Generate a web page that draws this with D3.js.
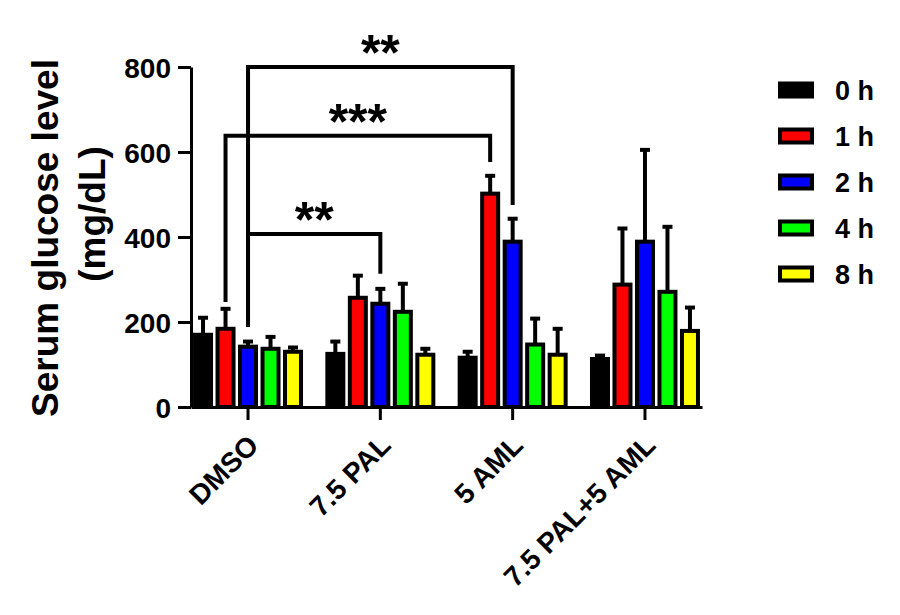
<!DOCTYPE html>
<html><head><meta charset="utf-8">
<script src="https://cdn.jsdelivr.net/npm/d3@7"></script>
<style>body{margin:0;background:#fff}</style>
</head><body><svg id="c" width="900" height="615"></svg>
<script>
// ---- data ----
const groups = ["DMSO", "7.5 PAL", "5 AML", "7.5 PAL+5 AML"];
const series = ["0 h", "1 h", "2 h", "4 h", "8 h"];
const colors = ["#000000", "#ff0000", "#0000ff", "#00ff00", "#ffff00"];
const mean0h = [170, 125, 116, 113];
const mean1h = [184, 257, 502, 288];
const mean2h = [142, 243, 389, 389];
const mean4h = [137, 224, 147, 271];
const mean8h = [130, 123, 123, 179];
const sd0h = [40, 29, 14, 8];
const sd1h = [47, 52, 42, 132];
const sd2h = [12, 35, 54, 216];
const sd4h = [28, 66, 61, 153];
const sd8h = [10, 14, 61, 55];
const yTicks = [0, 200, 400, 600, 800];
// significance brackets: [group, series] pairs, bracket level and drop ends (mg/dL)
const sigFrom = [[0, "2 h"], [0, "1 h"], [0, "2 h"]];
const sigTo = [[2, "2 h"], [2, "1 h"], [1, "2 h"]];
const sigLevel = [800, 638, 407];
const sigDropFrom = [193, 252, 193];
const sigDropTo = [480, 581, 318];
const sigLabel = ["**", "***", "**"];

const means = [mean0h, mean1h, mean2h, mean4h, mean8h];
const sds = [sd0h, sd1h, sd2h, sd4h, sd8h];

const FONT = "'Liberation Sans', Arial, Helvetica, sans-serif";
const svg = d3.select("#c").style("font-family", FONT);

const y = d3.scaleLinear().domain([0, 800]).range([407, 67]);
const x0 = d3.scaleBand().domain(groups).range([191, 702]).paddingInner(0.15).paddingOuter(0.006);
const x1 = d3.scaleBand().domain(series).range([0, x0.bandwidth()]).paddingInner(0.289).paddingOuter(0.144);
const cx = (g, s) => x0(groups[g]) + x1(s) + x1.bandwidth() / 2;

const data = [];
groups.forEach((g, gi) => series.forEach((s, si) => data.push({g, gi, s, si, m: means[si][gi], sd: sds[si][gi]})));

// bars
svg.append("g").selectAll("rect").data(data).join("rect")
  .attr("x", d => x0(d.g) + x1(d.s))
  .attr("width", x1.bandwidth())
  .attr("y", d => y(d.m))
  .attr("height", d => y(0) - y(d.m))
  .attr("fill", d => colors[d.si])
  .attr("stroke", "#000").attr("stroke-width", 4);

// error bars
const eb = svg.append("g").attr("stroke", "#000").attr("stroke-width", 4);
eb.selectAll("line.v").data(data).join("line").attr("class", "v")
  .attr("x1", d => cx(d.gi, d.s)).attr("x2", d => cx(d.gi, d.s))
  .attr("y1", d => y(d.m)).attr("y2", d => y(d.m + d.sd));
eb.selectAll("line.c").data(data).join("line").attr("class", "c")
  .attr("x1", d => cx(d.gi, d.s) - 5).attr("x2", d => cx(d.gi, d.s) + 5)
  .attr("y1", d => y(d.m + d.sd)).attr("y2", d => y(d.m + d.sd));

// significance brackets
const sig = svg.append("g");
sigLabel.forEach((lab, i) => {
  const xa = cx(sigFrom[i][0], sigFrom[i][1]);
  const xb = cx(sigTo[i][0], sigTo[i][1]);
  const yl = y(sigLevel[i]);
  sig.append("path")
    .attr("d", `M${xa},${y(sigDropFrom[i])}V${yl}H${xb}V${y(sigDropTo[i])}`)
    .attr("fill", "none").attr("stroke", "#000").attr("stroke-width", 4)
    .attr("stroke-linejoin", "miter").attr("stroke-linecap", "square");
  sig.append("text")
    .attr("x", (xa + xb) / 2).attr("y", yl + 3)
    .attr("text-anchor", "middle")
    .attr("font-size", 50).attr("font-weight", "bold")
    .text(lab);
});

// axes
const yAxis = svg.append("g").attr("transform", "translate(191,0)")
  .call(d3.axisLeft(y).tickValues(yTicks).tickSize(13).tickSizeOuter(0).tickPadding(7));
const xAxis = svg.append("g").attr("transform", "translate(0,407)")
  .call(d3.axisBottom(x0).tickSize(13).tickSizeOuter(0));
[yAxis, xAxis].forEach(a => {
  a.select(".domain").attr("stroke", "#000").attr("stroke-width", 3);
  a.selectAll(".tick line").attr("stroke", "#000").attr("stroke-width", 3);
  a.selectAll("text").attr("fill", "#000").attr("font-size", 28).attr("font-weight", "bold").attr("font-family", FONT);
});
yAxis.selectAll("text").attr("dy", "0.36em");
xAxis.selectAll("text")
  .attr("x", 0).attr("y", 0).attr("dy", 0)
  .attr("text-anchor", "end")
  .attr("transform", "translate(12,40) rotate(-45)");

// y title
svg.append("text").attr("transform", "translate(58,238) rotate(-90)")
  .attr("text-anchor", "middle").attr("font-size", 37).attr("font-weight", "bold")
  .text("Serum glucose level");
svg.append("text").attr("transform", "translate(105,214) rotate(-90)")
  .attr("text-anchor", "middle").attr("font-size", 37).attr("font-weight", "bold")
  .text("(mg/dL)");

// legend
const leg = svg.append("g").selectAll("g").data(series).join("g")
  .attr("transform", (d, i) => `translate(780,${90 + i * 46})`);
leg.append("rect").attr("x", 0).attr("y", -6.5).attr("width", 32).attr("height", 13)
  .attr("fill", (d, i) => colors[i]).attr("stroke", "#000").attr("stroke-width", 4);
leg.append("text").attr("x", 55).attr("y", 10)
  .attr("font-size", 27).attr("font-weight", "bold").text(d => d);
</script></body></html>
